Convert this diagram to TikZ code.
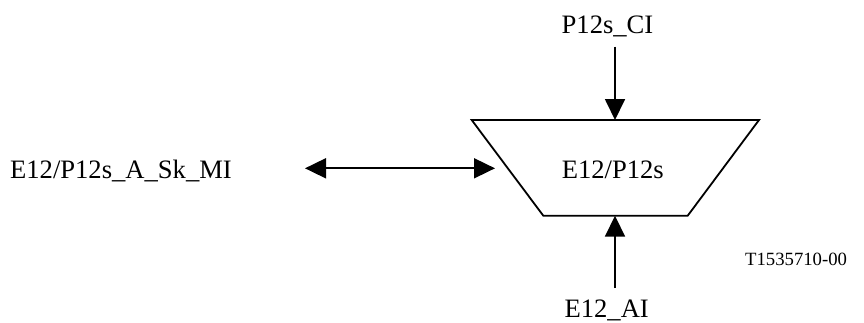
\documentclass[tikz,border=0pt]{standalone}
\usepackage{fontspec}
\setmainfont{Liberation Serif}
\usetikzlibrary{arrows.meta}
\begin{document}
\begin{tikzpicture}[x=1pt,y=-1pt,
  lbl/.style={inner sep=0pt,anchor=base,font=\fontsize{26.6}{30}\selectfont},
  small/.style={inner sep=0pt,anchor=base west,font=\fontsize{18.7}{22}\selectfont},
  wire/.style={line width=1.8pt},
  tip/.style={-{Triangle[length=21pt,width=20pt]}},
  biarrow/.style={{Triangle[length=21pt,width=20pt]}-{Triangle[length=21pt,width=20pt]}}]
\useasboundingbox (0,0) rectangle (864,322);
% adaptation function block (trapezium)
\coordinate (tl) at (471.7,120);
\coordinate (tr) at (759,120);
\coordinate (br) at (687.7,215.7);
\coordinate (bl) at (543.3,215.7);
\coordinate (ftop) at (615,120);
\coordinate (fbot) at (615,215.7);
\coordinate (fleft) at (495,168.3);
\draw[wire,line join=miter] (tl) -- (tr) -- (br) -- (bl) -- cycle;
\node[lbl] (fn) at (612.8,178) {E12/P12s};
% access points
\node[lbl] (ci) at (607.5,33.3) {P12s\_CI};
\coordinate (ciend) at (615,46.7);
\draw[wire,tip] (ciend) -- (ftop);
\node[lbl] (ai) at (606.7,317) {E12\_AI};
\coordinate (aiend) at (615,288);
\draw[wire,tip] (aiend) -- (fbot);
\node[lbl] (mi) at (121,178.3) {E12/P12s\_A\_Sk\_MI};
\coordinate (miend) at (305,168.3);
\draw[wire,biarrow] (miend) -- (fleft);
\node[small] (ref) at (745,265) {T1535710-00};
\end{tikzpicture}
\end{document}
